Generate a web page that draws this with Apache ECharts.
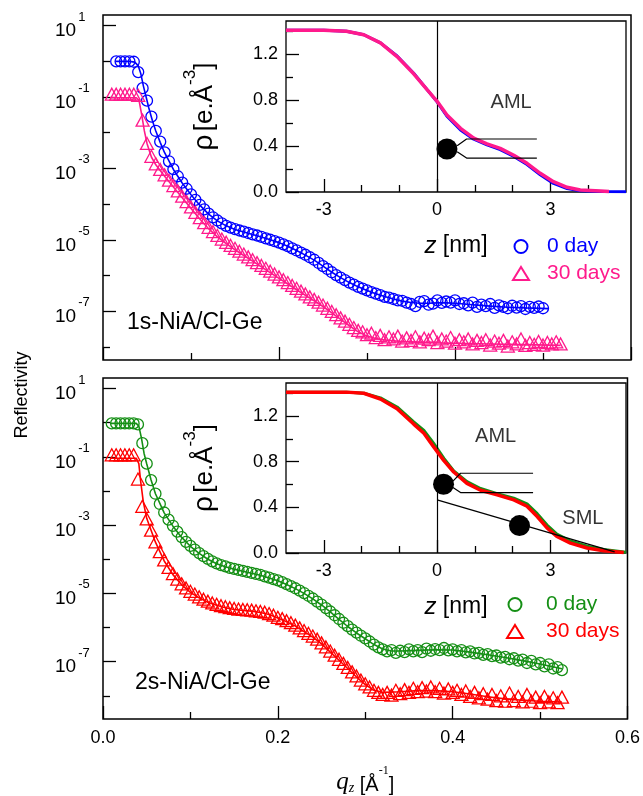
<!DOCTYPE html>
<html>
<head>
<meta charset="utf-8">
<title>Reflectivity NiA/Cl-Ge</title>
<script src="https://cdn.jsdelivr.net/npm/echarts@6/dist/echarts.min.js"></script>
<style>
  html, body { margin: 0; padding: 0; background: #fff; }
  #main { width: 643px; height: 796px; }
</style>
</head>
<body>
<div id="main"></div>
<script>
var FONT = '"Liberation Sans", Arial, sans-serif';
var SERIF = '"Liberation Serif", "Times New Roman", serif';
var BLUE = '#0000ff', PINK = '#ff1a8c', GREEN = '#158f15', RED = '#ff0000';

// tick values
var qTicksMajor = [0, 0.2, 0.4, 0.6];
var qTicksMinor = [0.1, 0.3, 0.5];
var logTicksMajor = [1, -1, -3, -5, -7];     // labelled decades (10^n)
var logTicksMinor = [0, -2, -4, -6, -8];
var zTicksMajor = [-3, 0, 3];
var zTicksMinor = [-2, -1, 1, 2, 4];
var rhoTicksMajor = [0, 0.4, 0.8, 1.2];
var rhoTicksMinor = [0.2, 0.6, 1.0, 1.4];

// ---- top panel (1s), [qz, log10 R] ----
var top0day = [
  [0.015,0.00],[0.020,0.00],[0.025,0.00],[0.030,0.00],[0.035,-0.01],[0.040,-0.30],[0.045,-0.75],[0.050,-1.10],
  [0.055,-1.55],[0.060,-1.95],[0.065,-2.25],[0.070,-2.55],[0.075,-2.80],[0.080,-3.02],[0.085,-3.22],[0.090,-3.40],
  [0.095,-3.57],[0.100,-3.73],[0.105,-3.88],[0.110,-4.02],[0.115,-4.15],[0.120,-4.27],[0.125,-4.37],[0.130,-4.46],
  [0.135,-4.54],[0.140,-4.61],[0.145,-4.66],[0.150,-4.70],[0.155,-4.74],[0.160,-4.77],[0.165,-4.81],[0.170,-4.85],
  [0.175,-4.88],[0.180,-4.92],[0.185,-4.96],[0.190,-5.00],[0.195,-5.04],[0.200,-5.08],[0.205,-5.13],[0.210,-5.18],
  [0.215,-5.24],[0.220,-5.30],[0.225,-5.36],[0.230,-5.42],[0.235,-5.49],[0.240,-5.56],[0.245,-5.65],[0.250,-5.74],
  [0.255,-5.82],[0.260,-5.91],[0.265,-5.99],[0.270,-6.06],[0.275,-6.13],[0.280,-6.20],[0.285,-6.26],[0.290,-6.32],
  [0.295,-6.37],[0.300,-6.42],[0.305,-6.47],[0.310,-6.51],[0.315,-6.55],[0.320,-6.60],[0.325,-6.62],[0.330,-6.66],
  [0.335,-6.70],[0.340,-6.71],[0.345,-6.76],[0.350,-6.80],[0.355,-6.86],[0.360,-6.74],[0.365,-6.72],[0.370,-6.82],
  [0.375,-6.79],[0.380,-6.70],[0.385,-6.77],[0.390,-6.73],[0.395,-6.76],[0.400,-6.70],[0.405,-6.80],[0.410,-6.78],
  [0.415,-6.84],[0.420,-6.76],[0.425,-6.88],[0.430,-6.82],[0.435,-6.86],[0.440,-6.80],[0.445,-6.91],[0.450,-6.84],
  [0.455,-6.88],[0.460,-6.92],[0.465,-6.85],[0.470,-6.90],[0.475,-6.86],[0.480,-6.94],[0.485,-6.88],[0.490,-6.91],
  [0.495,-6.87],[0.500,-6.92]
];
var top0dayFit = [
  [0.014,0.00],[0.030,0.00],[0.036,-0.02],[0.040,-0.12],[0.043,-0.35],[0.046,-0.70],[0.049,-1.00],[0.052,-1.30],
  [0.056,-1.65],[0.060,-1.95],[0.065,-2.27],[0.070,-2.56],[0.080,-3.03],[0.090,-3.41],[0.100,-3.74],[0.110,-4.03],
  [0.120,-4.28],[0.130,-4.47],[0.140,-4.61],[0.150,-4.71],[0.160,-4.78],[0.170,-4.85],[0.180,-4.92],[0.190,-5.00],
  [0.200,-5.08],[0.210,-5.18],[0.220,-5.30],[0.230,-5.43],[0.240,-5.57],[0.250,-5.74],[0.260,-5.91],[0.270,-6.06],
  [0.280,-6.20],[0.290,-6.32],[0.300,-6.42],[0.310,-6.51],[0.320,-6.59],[0.330,-6.66],[0.340,-6.72],[0.350,-6.76],
  [0.360,-6.78],[0.370,-6.78],[0.380,-6.77],[0.390,-6.77],[0.400,-6.78],[0.420,-6.82],[0.440,-6.86],[0.460,-6.89],
  [0.480,-6.91],[0.506,-6.93]
];
var top30days = [
  [0.010,-0.92],[0.015,-0.92],[0.020,-0.92],[0.025,-0.92],[0.030,-0.92],[0.035,-0.92],[0.040,-0.95],[0.045,-1.65],
  [0.050,-2.30],[0.055,-2.66],[0.060,-2.87],[0.065,-3.03],[0.070,-3.18],[0.075,-3.33],[0.080,-3.48],[0.085,-3.63],
  [0.090,-3.78],[0.095,-3.93],[0.100,-4.08],[0.105,-4.23],[0.110,-4.38],[0.115,-4.52],[0.120,-4.65],[0.125,-4.77],
  [0.130,-4.88],[0.135,-4.98],[0.140,-5.07],[0.145,-5.16],[0.150,-5.24],[0.155,-5.32],[0.160,-5.40],[0.165,-5.48],
  [0.170,-5.56],[0.175,-5.64],[0.180,-5.72],[0.185,-5.80],[0.190,-5.88],[0.195,-5.96],[0.200,-6.04],[0.205,-6.12],
  [0.210,-6.20],[0.215,-6.28],[0.220,-6.36],[0.225,-6.44],[0.230,-6.52],[0.235,-6.60],[0.240,-6.67],[0.245,-6.75],
  [0.250,-6.83],[0.255,-6.92],[0.260,-7.01],[0.265,-7.10],[0.270,-7.19],[0.275,-7.28],[0.280,-7.37],[0.285,-7.46],
  [0.290,-7.54],[0.295,-7.58],[0.300,-7.66],[0.305,-7.62],[0.310,-7.74],[0.315,-7.68],[0.320,-7.80],[0.325,-7.72],
  [0.330,-7.78],[0.335,-7.70],[0.340,-7.84],[0.345,-7.75],[0.350,-7.82],[0.355,-7.72],[0.360,-7.86],[0.365,-7.76],
  [0.370,-7.80],[0.375,-7.70],[0.380,-7.88],[0.385,-7.78],[0.390,-7.84],[0.395,-7.74],[0.400,-7.90],[0.405,-7.80],
  [0.410,-7.86],[0.415,-7.78],[0.420,-7.92],[0.425,-7.82],[0.430,-7.88],[0.435,-7.80],[0.440,-7.95],[0.445,-7.84],
  [0.450,-7.90],[0.455,-7.82],[0.460,-7.98],[0.465,-7.86],[0.470,-7.92],[0.475,-7.78],[0.480,-7.96],[0.485,-7.88],
  [0.490,-7.93],[0.495,-7.85],[0.500,-7.95],[0.505,-7.88],[0.510,-7.92],[0.515,-7.86],[0.520,-7.92]
];
var top30daysFit = [
  [0.008,-1.02],[0.038,-1.02],[0.041,-1.10],[0.044,-1.50],[0.047,-1.95],[0.050,-2.30],[0.055,-2.68],[0.060,-2.90],
  [0.070,-3.22],[0.080,-3.52],[0.090,-3.82],[0.100,-4.12],[0.110,-4.42],[0.120,-4.69],[0.130,-4.92],[0.140,-5.11],
  [0.150,-5.28],[0.160,-5.44],[0.170,-5.60],[0.180,-5.76],[0.190,-5.92],[0.200,-6.08],[0.210,-6.24],[0.220,-6.40],
  [0.230,-6.56],[0.240,-6.71],[0.250,-6.87],[0.260,-7.05],[0.270,-7.23],[0.280,-7.41],[0.290,-7.58],[0.300,-7.70],
  [0.310,-7.77],[0.320,-7.81],[0.340,-7.85],[0.360,-7.87],[0.380,-7.89],[0.400,-7.90],[0.440,-7.92],[0.480,-7.94],
  [0.520,-7.96]
];

// ---- bottom panel (2s) ----
var bot0day = [
  [0.010,-0.02],[0.015,-0.02],[0.020,-0.02],[0.025,-0.02],[0.030,-0.02],[0.035,-0.02],[0.040,-0.05],[0.045,-0.60],
  [0.050,-1.20],[0.055,-1.68],[0.060,-2.08],[0.065,-2.38],[0.070,-2.63],[0.075,-2.84],[0.080,-3.02],[0.085,-3.19],
  [0.090,-3.35],[0.095,-3.49],[0.100,-3.61],[0.105,-3.72],[0.110,-3.82],[0.115,-3.91],[0.120,-3.99],[0.125,-4.06],
  [0.130,-4.12],[0.135,-4.17],[0.140,-4.21],[0.145,-4.25],[0.150,-4.28],[0.155,-4.31],[0.160,-4.34],[0.165,-4.37],
  [0.170,-4.40],[0.175,-4.43],[0.180,-4.46],[0.185,-4.50],[0.190,-4.54],[0.195,-4.58],[0.200,-4.62],[0.205,-4.67],
  [0.210,-4.73],[0.215,-4.79],[0.220,-4.85],[0.225,-4.92],[0.230,-4.99],[0.235,-5.07],[0.240,-5.15],[0.245,-5.24],
  [0.250,-5.33],[0.255,-5.43],[0.260,-5.53],[0.265,-5.64],[0.270,-5.75],[0.275,-5.86],[0.280,-5.96],[0.285,-6.06],
  [0.290,-6.15],[0.295,-6.24],[0.300,-6.32],[0.305,-6.41],[0.310,-6.50],[0.315,-6.58],[0.320,-6.64],[0.325,-6.70],
  [0.330,-6.66],[0.335,-6.74],[0.340,-6.68],[0.345,-6.72],[0.350,-6.64],[0.355,-6.70],[0.360,-6.66],[0.365,-6.72],
  [0.370,-6.62],[0.375,-6.68],[0.380,-6.63],[0.385,-6.66],[0.390,-6.60],[0.395,-6.67],[0.400,-6.64],[0.405,-6.70],
  [0.410,-6.66],[0.415,-6.73],[0.420,-6.70],[0.425,-6.76],[0.430,-6.74],[0.435,-6.80],[0.440,-6.78],[0.445,-6.84],
  [0.450,-6.82],[0.455,-6.88],[0.460,-6.86],[0.465,-6.93],[0.470,-6.90],[0.475,-6.97],[0.480,-6.94],[0.485,-7.04],
  [0.490,-6.98],[0.495,-7.08],[0.500,-7.04],[0.505,-7.14],[0.510,-7.08],[0.515,-7.20],[0.520,-7.16],[0.525,-7.25]
];
var bot0dayFit = [
  [0.008,-0.02],[0.038,-0.02],[0.041,-0.10],[0.044,-0.45],[0.047,-0.90],[0.050,-1.20],[0.055,-1.68],[0.060,-2.08],
  [0.070,-2.64],[0.080,-3.03],[0.090,-3.36],[0.100,-3.62],[0.110,-3.83],[0.120,-4.00],[0.130,-4.13],[0.140,-4.22],
  [0.150,-4.29],[0.160,-4.35],[0.170,-4.41],[0.180,-4.47],[0.190,-4.55],[0.200,-4.63],[0.210,-4.74],[0.220,-4.86],
  [0.230,-5.00],[0.240,-5.16],[0.250,-5.34],[0.260,-5.54],[0.270,-5.76],[0.280,-5.97],[0.290,-6.16],[0.300,-6.33],
  [0.310,-6.50],[0.320,-6.63],[0.330,-6.69],[0.340,-6.69],[0.360,-6.67],[0.380,-6.65],[0.400,-6.66],[0.420,-6.72],
  [0.440,-6.80],[0.460,-6.88],[0.480,-6.97],[0.500,-7.07],[0.525,-7.21]
];
var bot30days = [
  [0.010,-0.94],[0.015,-0.94],[0.020,-0.94],[0.025,-0.94],[0.030,-0.94],[0.035,-0.94],[0.040,-1.65],[0.045,-2.45],
  [0.050,-2.82],[0.055,-3.15],[0.060,-3.49],[0.065,-3.78],[0.070,-4.02],[0.075,-4.24],[0.080,-4.42],[0.085,-4.58],
  [0.090,-4.72],[0.095,-4.84],[0.100,-4.94],[0.105,-5.02],[0.110,-5.10],[0.115,-5.17],[0.120,-5.23],[0.125,-5.28],
  [0.130,-5.32],[0.135,-5.36],[0.140,-5.39],[0.145,-5.42],[0.150,-5.44],[0.155,-5.46],[0.160,-5.47],[0.165,-5.48],
  [0.170,-5.49],[0.175,-5.51],[0.180,-5.53],[0.185,-5.55],[0.190,-5.59],[0.195,-5.64],[0.200,-5.70],[0.205,-5.74],
  [0.210,-5.80],[0.215,-5.86],[0.220,-5.93],[0.225,-6.01],[0.230,-6.09],[0.235,-6.17],[0.240,-6.25],[0.245,-6.34],
  [0.250,-6.45],[0.255,-6.57],[0.260,-6.69],[0.265,-6.81],[0.270,-6.93],[0.275,-7.05],[0.280,-7.17],[0.285,-7.30],
  [0.290,-7.42],[0.295,-7.54],[0.300,-7.65],[0.305,-7.74],[0.310,-7.84],[0.315,-7.90],[0.320,-7.96],[0.325,-7.90],
  [0.330,-7.98],[0.335,-7.84],[0.340,-7.94],[0.345,-7.82],[0.350,-7.90],[0.355,-7.78],[0.360,-7.88],[0.365,-7.76],
  [0.370,-7.86],[0.375,-7.74],[0.380,-7.88],[0.385,-7.78],[0.390,-7.92],[0.395,-7.80],[0.400,-7.90],[0.405,-7.84],
  [0.410,-7.96],[0.415,-7.86],[0.420,-8.02],[0.425,-7.90],[0.430,-8.06],[0.435,-7.94],[0.440,-8.10],[0.445,-7.96],
  [0.450,-8.14],[0.455,-8.00],[0.460,-8.16],[0.465,-7.92],[0.470,-8.14],[0.475,-8.02],[0.480,-8.18],[0.485,-7.96],
  [0.490,-8.16],[0.495,-8.04],[0.500,-8.20],[0.505,-8.02],[0.510,-8.18],[0.515,-8.06],[0.520,-8.20],[0.525,-8.04]
];
var bot30daysFit = [
  [0.008,-1.04],[0.038,-1.04],[0.041,-1.20],[0.043,-1.70],[0.046,-2.30],[0.050,-2.80],[0.055,-3.15],[0.060,-3.50],
  [0.070,-4.05],[0.080,-4.45],[0.090,-4.75],[0.100,-4.97],[0.110,-5.13],[0.120,-5.26],[0.130,-5.35],[0.140,-5.42],
  [0.150,-5.47],[0.160,-5.50],[0.170,-5.52],[0.180,-5.56],[0.190,-5.62],[0.200,-5.72],[0.210,-5.83],[0.220,-5.96],
  [0.230,-6.12],[0.240,-6.28],[0.250,-6.48],[0.260,-6.72],[0.270,-6.96],[0.280,-7.20],[0.290,-7.45],[0.300,-7.67],
  [0.310,-7.84],[0.320,-7.90],[0.340,-7.88],[0.360,-7.85],[0.380,-7.85],[0.400,-7.88],[0.420,-7.95],[0.440,-8.03],
  [0.460,-8.09],[0.480,-8.13],[0.500,-8.16],[0.525,-8.18]
];

// ---- insets: electron density profile [z nm, rho e/A^3] ----
var topRho0day = [
  [-4,1.41],[-3,1.41],[-2.4,1.40],[-1.94,1.37],[-1.5,1.30],[-1.06,1.185],[-0.62,1.035],[-0.26,0.89],[0,0.785],
  [0.26,0.66],[0.62,0.54],[0.97,0.46],[1.32,0.41],[1.67,0.37],[2.03,0.31],[2.38,0.24],[2.73,0.15],[3.08,0.075],
  [3.44,0.03],[3.79,0.01],[4.32,0.004],[5,0.002]
];
var topRho30days = [
  [-4,1.41],[-3,1.41],[-2.4,1.40],[-1.94,1.37],[-1.5,1.30],[-1.06,1.18],[-0.62,1.03],[-0.26,0.89],[0,0.79],
  [0.26,0.67],[0.62,0.555],[0.97,0.47],[1.32,0.42],[1.67,0.38],[2.03,0.32],[2.38,0.25],[2.73,0.163],[3.08,0.09],
  [3.44,0.041],[3.79,0.017],[4.32,0.009],[4.55,0.004]
];
var botRho0day = [
  [-4,1.41],[-2.4,1.41],[-1.94,1.40],[-1.5,1.36],[-1.06,1.28],[-0.62,1.15],[-0.35,1.075],[-0.09,0.96],[0.18,0.83],
  [0.44,0.72],[0.79,0.625],[1.15,0.565],[1.59,0.52],[2.03,0.48],[2.38,0.43],[2.65,0.345],[2.91,0.245],[3.17,0.165],
  [3.53,0.105],[3.97,0.06],[4.41,0.03],[5,0.006]
];
var botRho30days = [
  [-4,1.41],[-2.4,1.41],[-1.94,1.40],[-1.5,1.35],[-1.06,1.265],[-0.62,1.13],[-0.35,1.05],[-0.09,0.93],[0.18,0.81],
  [0.44,0.71],[0.79,0.61],[1.15,0.55],[1.59,0.51],[2.03,0.465],[2.38,0.41],[2.65,0.32],[2.91,0.22],[3.17,0.145],
  [3.53,0.087],[3.97,0.044],[4.41,0.02],[4.94,0.005]
];

// molecule sketches in the insets (z, rho)
var topBalls = [[0.26, 0.375]];
var topSticks = [
  [[0.53,0.404],[0.78,0.462],[2.64,0.462]],
  [[0.53,0.351],[0.78,0.296],[2.64,0.296]]
];
var botBalls = [[0.17, 0.603], [2.18, 0.24]];
var botSticks = [
  [[0.42,0.63],[0.62,0.699],[2.54,0.699]],
  [[0.42,0.575],[0.62,0.53],[2.54,0.53]],
  [[0,0.466],[4.7,0.01]]
];
var topNotes = [[1.96, 0.78, 'AML']];
var botNotes = [[1.55, 1.017, 'AML'], [3.86, 0.30, 'SML']];

// ---------------- axes ----------------
var xAxes = [], yAxes = [];
var tickLine = { color: '#000', width: 1.3 };

function addAxis(list, grid, pos, min, max, major, minor, label, extra) {
  var base = { type: 'value', gridIndex: grid, position: pos, min: min, max: max,
               axisLine: { show: false, onZero: false }, splitLine: { show: false } };
  var idx = list.length;
  list.push(Object.assign({}, base, {
    axisTick: { inside: true, length: 13, customValues: major, lineStyle: tickLine },
    axisLabel: label ? Object.assign({ customValues: major, fontSize: 18, fontFamily: FONT, color: '#000' }, label)
                     : { show: false }
  }, extra || {}));
  list.push(Object.assign({}, base, {
    axisTick: { inside: true, length: 7, customValues: minor, lineStyle: tickLine },
    axisLabel: { show: false }
  }));
  return idx;
}

var supRich = {
  b: { fontSize: 19, fontFamily: FONT, color: '#000', lineHeight: 30, verticalAlign: 'bottom' },
  s: { fontSize: 13, fontFamily: FONT, color: '#000', lineHeight: 13, verticalAlign: 'top', padding: [0, 0, 0, 2] }
};
var logLabel = {
  margin: 48, align: 'left',
  formatter: function (v) { return '{b|10}{s|' + v + '}'; },
  rich: supRich
};
var rhoName = {
  name: '{r|\u03c1} {b|[e.\u00c5}{s|-3}{b|]}',
  nameLocation: 'middle', nameRotate: 90, nameGap: 68,
  nameTextStyle: {
    rich: {
      r: { fontSize: 28, fontFamily: FONT, color: '#000', lineHeight: 36, verticalAlign: 'bottom' },
      b: { fontSize: 26, fontFamily: FONT, color: '#000', lineHeight: 36, verticalAlign: 'bottom' },
      s: { fontSize: 17, fontFamily: FONT, color: '#000', lineHeight: 17, verticalAlign: 'top' }
    }
  }
};
var zName = {
  name: '{i|z}{b| [nm]}',
  nameLocation: 'middle', nameGap: 42,
  nameTextStyle: {
    rich: {
      i: { fontSize: 24, fontFamily: FONT, fontStyle: 'italic', color: '#000' },
      b: { fontSize: 23, fontFamily: FONT, color: '#000' }
    }
  }
};
var qName = {
  name: '{q|q}{z|z}{b| [\u00c5}{s|-1}{b|]}',
  nameLocation: 'middle', nameGap: 46,
  nameTextStyle: {
    rich: {
      q: { fontSize: 25, fontFamily: SERIF, fontStyle: 'italic', color: '#000', lineHeight: 30, verticalAlign: 'bottom' },
      z: { fontSize: 14, fontFamily: SERIF, fontStyle: 'italic', color: '#000', lineHeight: 14, verticalAlign: 'bottom' },
      b: { fontSize: 20, fontFamily: FONT, color: '#000', lineHeight: 30, verticalAlign: 'bottom' },
      s: { fontSize: 12, fontFamily: SERIF, color: '#000', lineHeight: 12, verticalAlign: 'top' }
    }
  }
};
function fixed1(v) { return v.toFixed(1); }

var xTop = addAxis(xAxes, 0, 'bottom', 0, 0.6, qTicksMajor, qTicksMinor, null);
var xBot = addAxis(xAxes, 1, 'bottom', 0, 0.6, qTicksMajor, qTicksMinor, { formatter: fixed1, margin: 10 }, qName);
var xInTop = addAxis(xAxes, 2, 'bottom', -4, 5, zTicksMajor, zTicksMinor, { formatter: String, margin: 9 }, zName);
var xInBot = addAxis(xAxes, 3, 'bottom', -4, 5, zTicksMajor, zTicksMinor, { formatter: String, margin: 9 }, zName);
var yTop = addAxis(yAxes, 0, 'left', -8.37, 1.30, logTicksMajor, logTicksMinor, logLabel);
var yBot = addAxis(yAxes, 1, 'left', -8.68, 1.31, logTicksMajor, logTicksMinor, logLabel);
var yInTop = addAxis(yAxes, 2, 'left', 0, 1.49, rhoTicksMajor, rhoTicksMinor, { formatter: fixed1, margin: 8 }, rhoName);
var yInBot = addAxis(yAxes, 3, 'left', 0, 1.49, rhoTicksMajor, rhoTicksMinor, { formatter: fixed1, margin: 8 }, rhoName);

// ---------------- series ----------------
var series = [];
function points(name, data, xi, yi, symbol, size, color) {
  series.push({
    name: name, type: 'scatter', xAxisIndex: xi, yAxisIndex: yi, data: data,
    symbol: symbol, symbolSize: size, z: 3,
    itemStyle: { color: 'transparent', borderColor: color, borderWidth: 1.3, opacity: 1 }
  });
}
function curve(data, xi, yi, color, width, z, extra) {
  series.push(Object.assign({
    type: 'line', xAxisIndex: xi, yAxisIndex: yi, data: data, showSymbol: false, symbol: 'none',
    silent: true, z: z, lineStyle: { color: color, width: width }
  }, extra || {}));
}
var zeroLine = {
  markLine: { silent: true, symbol: 'none', label: { show: false },
              lineStyle: { color: '#000', width: 1.2, type: 'solid' }, data: [{ xAxis: 0 }] }
};

points('top|0 day', top0day, xTop, yTop, 'circle', 11, BLUE);
points('top|30 days', top30days, xTop, yTop, 'triangle', [13, 12], PINK);
curve(top0dayFit, xTop, yTop, BLUE, 1.6, 4);
curve(top30daysFit, xTop, yTop, PINK, 1.6, 4);

points('bot|0 day', bot0day, xBot, yBot, 'circle', 11, GREEN);
points('bot|30 days', bot30days, xBot, yBot, 'triangle', [13, 12], RED);
curve(bot0dayFit, xBot, yBot, GREEN, 1.6, 4);
curve(bot30daysFit, xBot, yBot, RED, 1.6, 4);

curve(topRho0day, xInTop, yInTop, BLUE, 3, 4, zeroLine);
curve(topRho30days, xInTop, yInTop, PINK, 3.5, 5);
curve(botRho0day, xInBot, yInBot, GREEN, 3, 4, zeroLine);
curve(botRho30days, xInBot, yInBot, RED, 3.5, 5);

function sketch(balls, sticks, notes, xi, yi) {
  sticks.forEach(function (s) { curve(s, xi, yi, '#000', 1.2, 6); });
  series.push({ type: 'scatter', xAxisIndex: xi, yAxisIndex: yi, data: balls, symbol: 'circle',
                symbolSize: 21, silent: true, z: 7, itemStyle: { color: '#000', opacity: 1 } });
  series.push({ type: 'scatter', xAxisIndex: xi, yAxisIndex: yi, data: notes, symbolSize: 1, silent: true, z: 7,
                itemStyle: { color: 'transparent' },
                label: { show: true, position: 'inside', formatter: function (p) { return p.value[2]; },
                         fontSize: 20, fontFamily: FONT, color: '#000' } });
}
sketch(topBalls, topSticks, topNotes, xInTop, yInTop);
sketch(botBalls, botSticks, botNotes, xInBot, yInBot);

function legendFor(prefix, left, top, pad, c0, c1) {
  return {
    orient: 'vertical', left: left, top: top, padding: 0, itemGap: 6,
    itemWidth: 16, itemHeight: 13, selectedMode: false,
    formatter: function (n) { return n.split('|')[1]; },
    textStyle: { fontSize: 21, fontFamily: FONT, padding: [0, 0, 0, pad] },
    data: [{ name: prefix + '|0 day', textStyle: { color: c0 } },
           { name: prefix + '|30 days', textStyle: { color: c1 } }]
  };
}

var option = {
  animation: false,
  backgroundColor: '#fff',
  grid: [
    { left: 103, top: 15, width: 528, height: 345, show: true, borderColor: '#000', borderWidth: 1.5 },
    { left: 103, top: 378, width: 528, height: 344, show: true, borderColor: '#000', borderWidth: 1.5 },
    { left: 286, top: 21, width: 340, height: 171, show: true, borderColor: '#000', borderWidth: 1.3 },
    { left: 286, top: 383, width: 340, height: 170, show: true, borderColor: '#000', borderWidth: 1.3 }
  ],
  xAxis: xAxes,
  yAxis: yAxes,
  legend: [
    legendFor('top', 512, 236, 13, BLUE, PINK),
    legendFor('bot', 506, 594, 18, GREEN, RED)
  ],
  graphic: [
    { type: 'text', x: 22, y: 395, rotation: Math.PI / 2,
      style: { text: 'Reflectivity', font: '18px "Liberation Sans", Arial, sans-serif', fill: '#000',
               align: 'center', verticalAlign: 'middle' } },
    { type: 'text', left: 127, top: 311,
      style: { text: '1s-NiA/Cl-Ge', font: '23px "Liberation Sans", Arial, sans-serif', fill: '#000' } },
    { type: 'text', left: 135, top: 671,
      style: { text: '2s-NiA/Cl-Ge', font: '23px "Liberation Sans", Arial, sans-serif', fill: '#000' } }
  ],
  series: series
};

var myChart = echarts.init(document.getElementById('main'));
myChart.setOption(option);
</script>
</body>
</html>
